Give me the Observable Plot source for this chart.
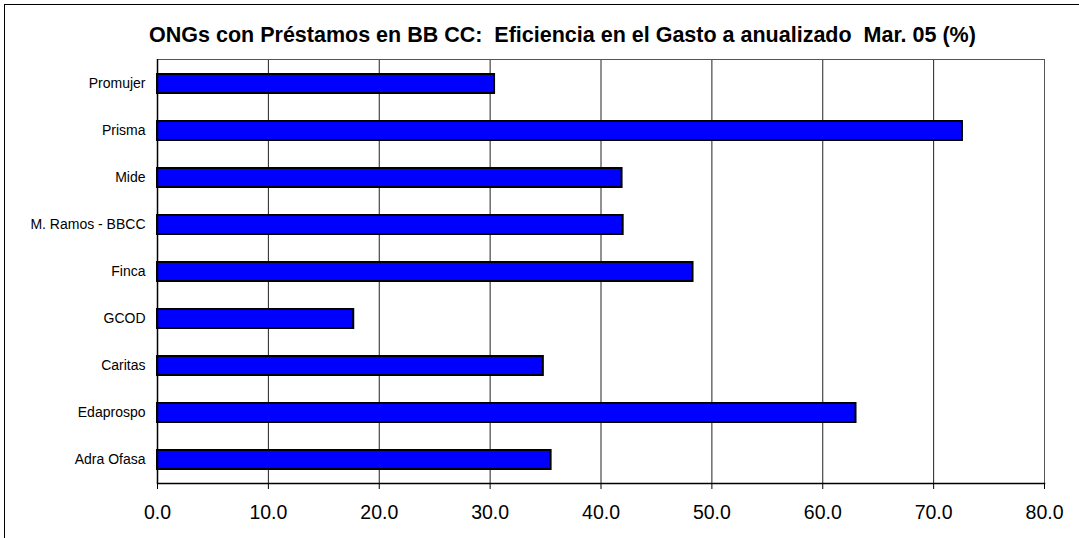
<!DOCTYPE html>
<html>
<head>
<meta charset="utf-8">
<script src="https://cdn.jsdelivr.net/npm/d3@7"></script>
<script src="https://cdn.jsdelivr.net/npm/@observablehq/plot@0.6"></script>
<style>
  html, body { margin: 0; padding: 0; background: #fff; }
  #wrap { position: relative; width: 1079px; height: 538px; overflow: hidden; background: #fff;
          font-family: "Liberation Sans", Arial, sans-serif; }
  #border { position: absolute; left: 4px; top: 4px; width: 1200px; height: 700px;
            border-left: 1.5px solid #000; border-top: 1.5px solid #000; box-sizing: border-box; pointer-events: none; }
  #title { box-sizing: border-box; height: 50px; width: 1079px; padding-top: 25px; padding-left: 46px;
           text-align: center; font-weight: bold; font-size: 21.5px; line-height: 21.5px; color: #000;
           white-space: pre; }
  #chart svg { display: block; }
</style>
</head>
<body>
<div id="wrap">
  <div id="title"></div>
  <div id="chart"></div>
  <div id="border"></div>
</div>
<script>
const titleText = "ONGs con Préstamos en BB CC:  Eficiencia en el Gasto a anualizado  Mar. 05 (%)";
const categories = ["Promujer", "Prisma", "Mide", "M. Ramos - BBCC", "Finca", "GCOD", "Caritas", "Edaprospo", "Adra Ofasa"];
const values = [30.4, 72.6, 41.9, 42.0, 48.3, 17.7, 34.8, 63.0, 35.5];
const xTicks = [0, 10, 20, 30, 40, 50, 60, 70, 80];

document.getElementById("title").textContent = titleText;

const data = categories.map((c, i) => ({category: c, value: values[i]}));

const chart = Plot.plot({
  width: 1079,
  height: 488,
  marginTop: 9,
  marginBottom: 55,
  marginLeft: 157,
  marginRight: 35,
  style: {fontFamily: '"Liberation Sans", Arial, sans-serif', color: "#000", background: "#fff"},
  x: {domain: [0, 80], ticks: xTicks, tickFormat: d => d.toFixed(1), label: null},
  y: {domain: categories, paddingInner: 0.6, paddingOuter: 0.3, label: null},
  marks: [
    Plot.gridX(xTicks, {stroke: "#222", strokeOpacity: 1, strokeWidth: 1}),
    Plot.frame({stroke: "#555", strokeWidth: 1}),
    Plot.barX(data, {x: "value", y: "category", fill: "#0000FF", stroke: "#000", strokeWidth: 2}),
    Plot.ruleX([0], {stroke: "#000", strokeWidth: 1.5}),
    Plot.frame({anchor: "bottom", stroke: "#000", strokeWidth: 1.5}),
    Plot.axisX(xTicks, {tickSize: 6, tickPadding: 16, fontSize: 19.5, tickFormat: d => d.toFixed(1), stroke: "#000", fill: "#000", label: null}),
    Plot.axisY({tickSize: 0, tickPadding: 12, fontSize: 14, fill: "#000", label: null})
  ]
});
document.getElementById("chart").appendChild(chart);
</script>
</body>
</html>
